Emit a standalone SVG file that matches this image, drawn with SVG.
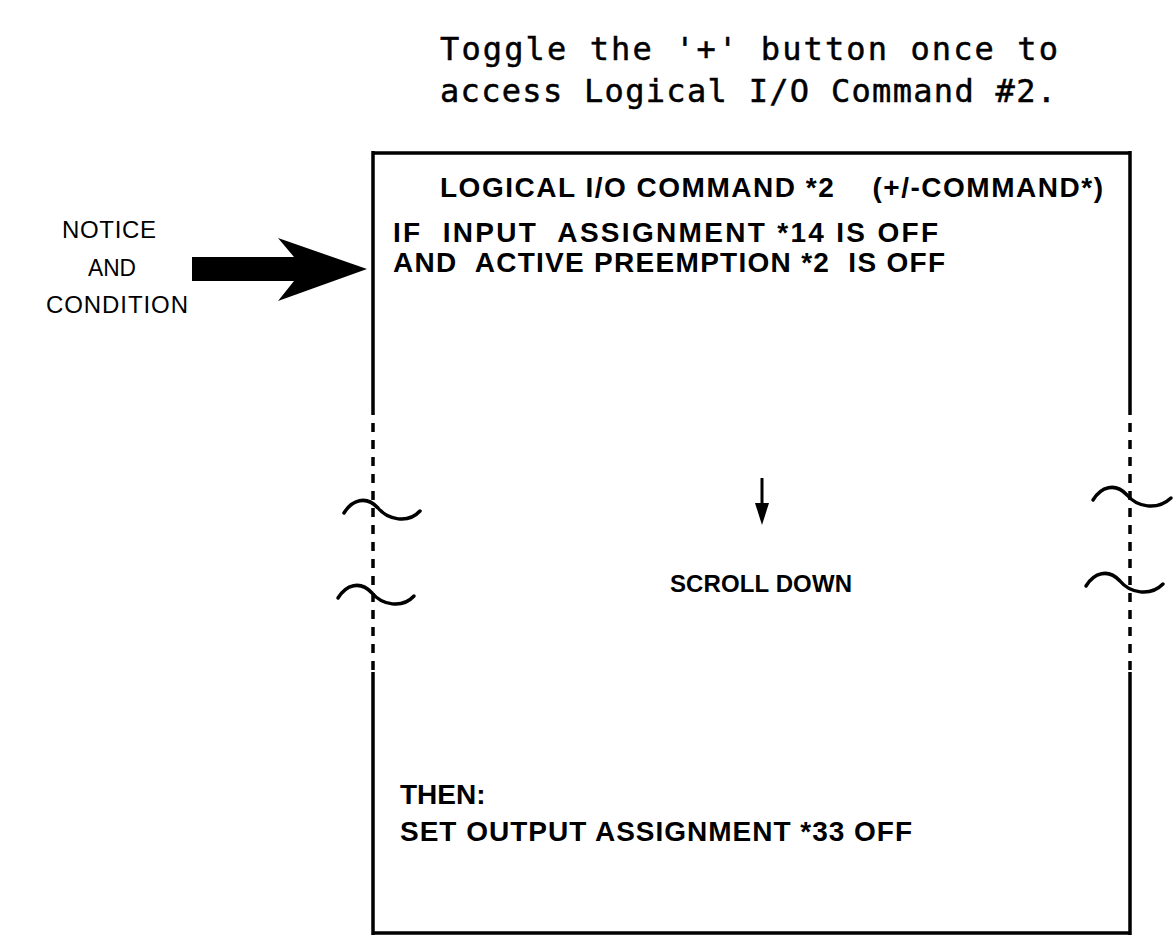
<svg xmlns="http://www.w3.org/2000/svg" width="1175" height="946" viewBox="0 0 1175 946">
<style>
.title{font-family:"DejaVu Sans Mono","Liberation Mono",monospace;font-size:32px;fill:#000;stroke:#000;stroke-width:0.5}
.box{font-family:"Liberation Sans",Arial,sans-serif;font-weight:bold;font-size:28px;fill:#000;white-space:pre}
.lbl{font-family:"Liberation Sans",Arial,sans-serif;font-size:24px;fill:#000}
.solid{stroke:#000;stroke-width:3.5;fill:none}
.dash{stroke:#000;stroke-width:3.5;fill:none;stroke-dasharray:9 8}
.tilde{stroke:#000;stroke-width:3.5;fill:none;stroke-linecap:round}
</style>
<rect width="1175" height="946" fill="#fff"/>
<g id="title">
<text class="title" x="440" y="60" textLength="618" lengthAdjust="spacing">Toggle the '+' button once to</text>
<text class="title" x="440" y="102" textLength="616" lengthAdjust="spacing">access Logical I/O Command #2.</text>
</g>
<g id="screen">
<path class="solid" d="M373,153 H1130 M373,933 H1130 M373,151 V415 M373,672 V935 M1130,151 V415 M1130,672 V935"/>
<path class="dash" d="M373,423 V670 M1130,423 V670"/>
<text class="box" x="440" y="197" textLength="663" lengthAdjust="spacing">LOGICAL I/O COMMAND *2    (+/-COMMAND*)</text>
<text class="box" x="393" y="242" textLength="545" lengthAdjust="spacing">IF  INPUT  ASSIGNMENT *14 IS OFF</text>
<text class="box" x="393" y="272" textLength="552" lengthAdjust="spacing">AND  ACTIVE PREEMPTION *2  IS OFF</text>
<text class="box" x="670" y="592" textLength="182" lengthAdjust="spacing" style="font-size:24px">SCROLL DOWN</text>
<text class="box" x="400" y="804">THEN:</text>
<text class="box" x="400" y="841" textLength="512" lengthAdjust="spacing">SET OUTPUT ASSIGNMENT *33 OFF</text>
</g>
<g id="breaks">
<path class="tilde" d="M344,513 C352,500 366,495 378,508 C388,520 408,524 420,511"/>
<path class="tilde" d="M338,598 C346,585 360,580 372,593 C382,605 402,609 414,596"/>
<path class="tilde" d="M1093,500 C1101,487 1115,482 1127,495 C1137,507 1157,511 1171,498"/>
<path class="tilde" d="M1086,586 C1094,573 1108,568 1120,581 C1130,593 1150,597 1163,584"/>
</g>
<g id="notice">
<text class="lbl" x="62" y="238" textLength="94" lengthAdjust="spacing">NOTICE</text>
<text class="lbl" x="88" y="276" textLength="48" lengthAdjust="spacingAndGlyphs">AND</text>
<text class="lbl" x="46" y="313" textLength="142" lengthAdjust="spacing">CONDITION</text>
</g>
<g id="connectors">
<polygon points="192,257 294,257 278,238 367,269 278,301 294,281 192,281" fill="#000"/>
<line x1="762" y1="478" x2="762" y2="505" stroke="#000" stroke-width="3"/>
<polygon points="755,503 769,503 762,525" fill="#000"/>
</g>
</svg>
